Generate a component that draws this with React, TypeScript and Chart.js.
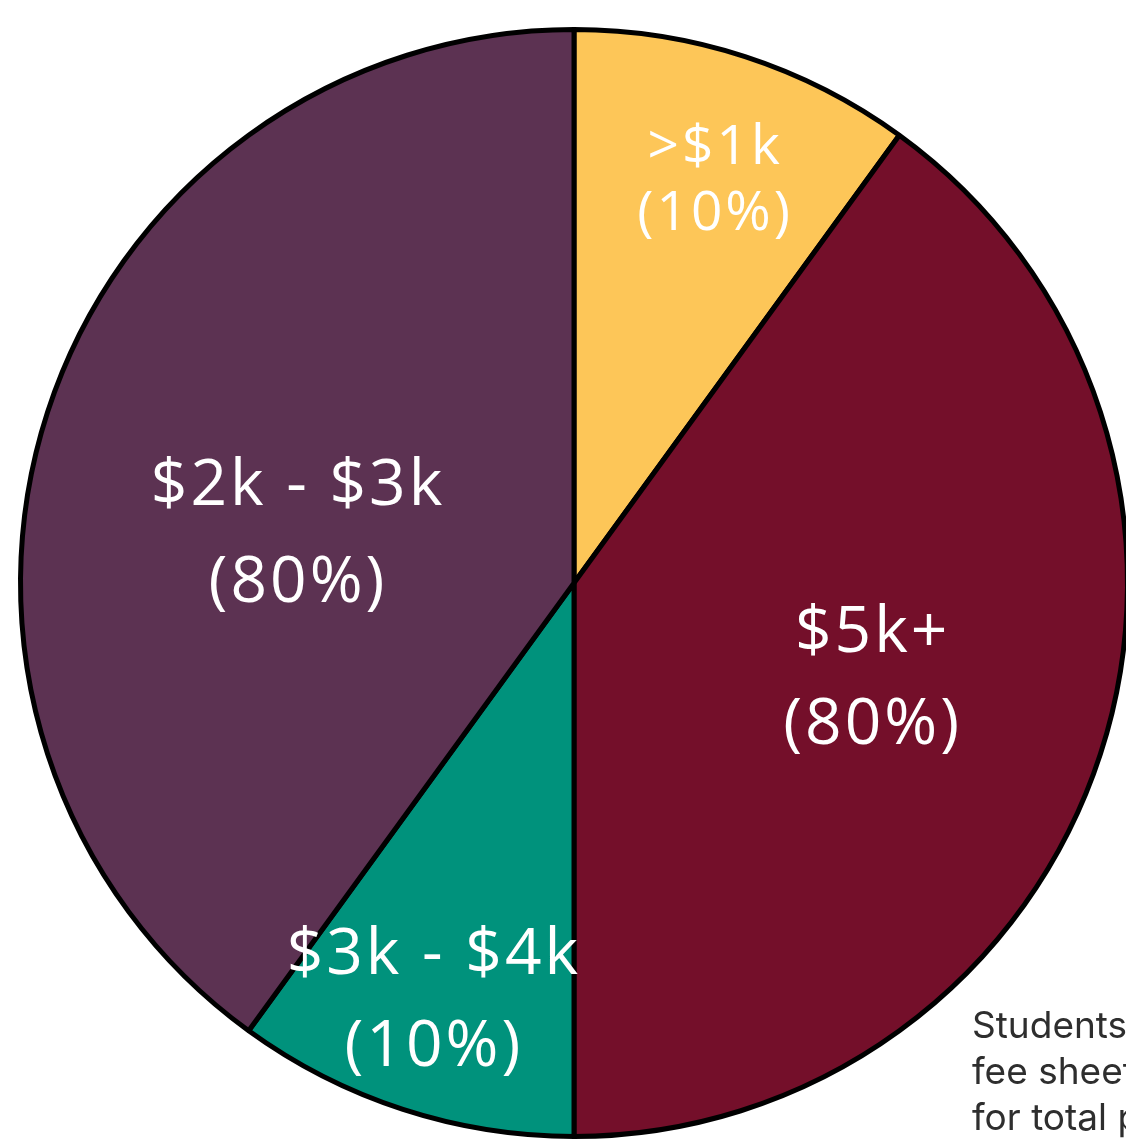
import React, { useEffect, useRef } from "react";
import { Chart, registerables } from "chart.js";

Chart.register(...registerables);

// ---- data ----
const categories = [">$1k", "$5k+", "$3k - $4k", "$2k - $3k"];
const shareValues = [10, 40, 10, 40];
const shareLabels = ["(10%)", "(80%)", "(10%)", "(80%)"];
const sliceColors = ["#FDC658", "#740F2A", "#00927C", "#5C3252"];
const captionLines = ["Students fill out", "fee sheets", "for total payments"];

// ---- label placement (fraction of radius, angle shift in degrees, font size, line gap) ----
const labelRadiusFrac = [0.775, 0.562, 0.79, 0.51];
const labelAngleShift = [1.0, -0.8, 0.9, -7.4];
const labelFontSize = [55, 64, 64, 64];
const labelLineGap = [66, 92, 92, 97];

const labelPlugin = {
  id: "sliceLabels",
  afterDatasetsDraw(chart: any) {
    const ctx = chart.ctx as CanvasRenderingContext2D;
    const meta = chart.getDatasetMeta(0);
    meta.data.forEach((arc: any, i: number) => {
      const { x, y, startAngle, endAngle, outerRadius } = arc.getProps(
        ["x", "y", "startAngle", "endAngle", "outerRadius"],
        true
      );
      const mid = (startAngle + endAngle) / 2 + (labelAngleShift[i] * Math.PI) / 180;
      const r = outerRadius * labelRadiusFrac[i];
      const cx = x + Math.cos(mid) * r;
      const cy = y + Math.sin(mid) * r;
      const fs = labelFontSize[i];
      const gap = labelLineGap[i];
      ctx.save();
      ctx.fillStyle = "#ffffff";
      ctx.font = `${fs}px "Open Sans", sans-serif`;
      (ctx as any).letterSpacing = "3px";
      ctx.textAlign = "center";
      ctx.textBaseline = "alphabetic";
      const capHalf = fs * 0.357;
      ctx.fillText(categories[i], cx + 1.5, cy - gap / 2 + capHalf);
      ctx.fillText(shareLabels[i], cx + 1.5, cy + gap / 2 + capHalf);
      ctx.restore();
    });
  },
};

export default function App() {
  const canvasRef = useRef<HTMLCanvasElement | null>(null);

  useEffect(() => {
    if (!canvasRef.current) return;
    const chart = new Chart(canvasRef.current, {
      type: "pie",
      data: {
        labels: categories,
        datasets: [
          {
            data: shareValues,
            backgroundColor: sliceColors,
            borderColor: "#000000",
            borderWidth: 5,
          },
        ],
      },
      options: {
        responsive: false,
        animation: false,
        devicePixelRatio: 1,
        radius: 553.5,
        layout: { padding: 0 },
        plugins: {
          legend: { display: false },
          tooltip: { enabled: false },
        },
      } as any,
      plugins: [labelPlugin],
    });
    return () => chart.destroy();
  }, []);

  return (
    <div
      style={{
        position: "absolute",
        left: 0,
        top: 0,
        width: 1126,
        height: 1140,
        overflow: "hidden",
        background: "#ffffff",
      }}
    >
      <canvas
        ref={canvasRef}
        width={1148}
        height={1166}
        style={{ position: "absolute", left: 0, top: 0, width: 1148, height: 1166 }}
      />
      <div
        style={{
          position: "absolute",
          left: 972,
          top: 1002,
          fontFamily: "Inter, sans-serif",
          fontSize: 37,
          lineHeight: "46px",
          color: "#2e2e2e",
          whiteSpace: "nowrap",
        }}
      >
        {captionLines.map((l, i) => (
          <div key={i}>{l}</div>
        ))}
      </div>
    </div>
  );
}
